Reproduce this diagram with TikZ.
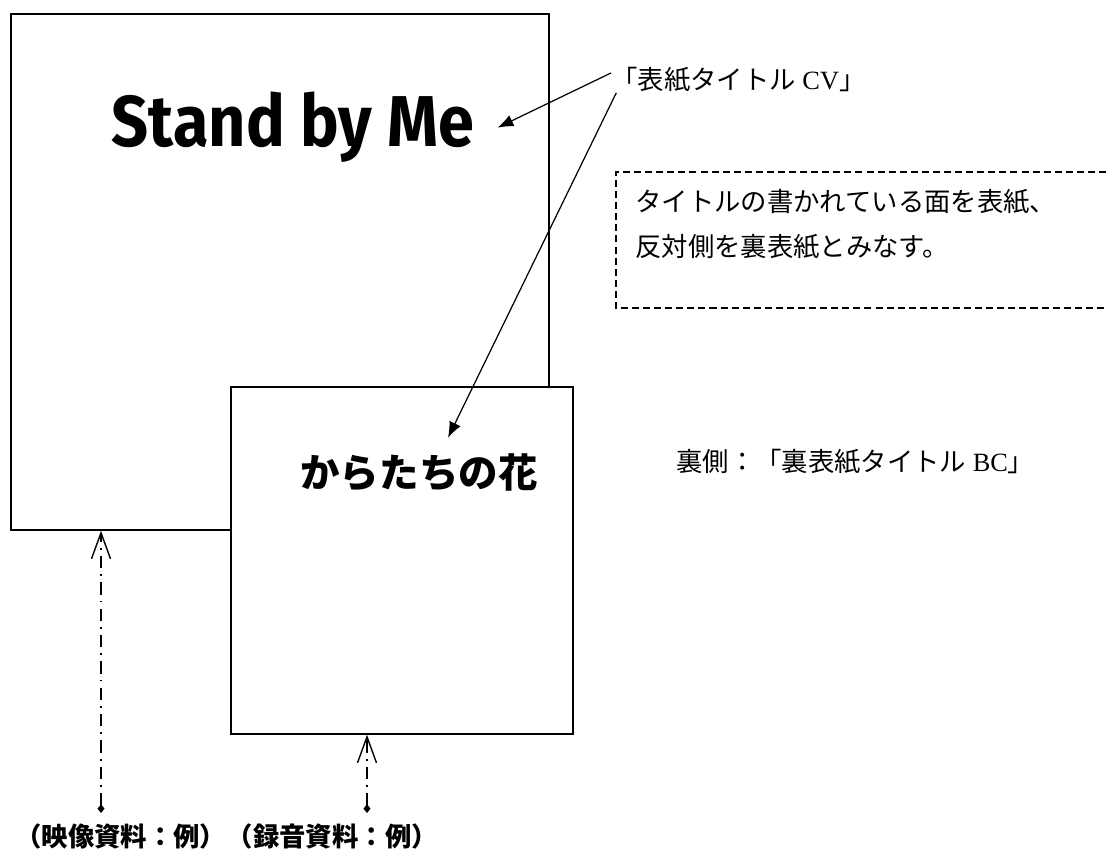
\documentclass[tikz,border=0pt]{standalone}
\usepackage{fontspec}
\setmainfont{Liberation Serif}
\newfontfamily\jp{Noto Sans CJK JP}
\newfontfamily\titlefont{Fira Sans}
\usetikzlibrary{arrows.meta,positioning}
\begin{document}
\begin{tikzpicture}[x=0.02cm,y=-0.02cm,
    box/.style={draw=black,line width=0.9pt,fill=white},
    pointer/.style={black,line width=0.7pt,-{Latex[length=9pt,width=7pt]}},
    media/.style={black,line width=0.8pt,dash pattern=on 7pt off 3.5pt on 1pt off 3.5pt,
      {Diamond[length=5pt,width=4pt]}-{Straight Barb[length=0.52cm,width=0.38cm]}},
    notebox/.style={black,line width=0.8pt,dash pattern=on 4pt off 2.3pt},
    jtext/.style={font=\jp\fontsize{15}{18}\selectfont},
    jbold/.style={font=\jp\bfseries\fontsize{15}{18}\selectfont}]
  \tikzstyle{every node}+=[inner sep=0pt]
  \useasboundingbox (0,0) rectangle (1106,851);
  % front and back covers
  \node[box,minimum width=10.76cm,minimum height=10.32cm] (cover) at (280,272) {};
  \node[box,minimum width=6.84cm,minimum height=6.94cm] (back) at (402,560.5) {};
  \node[anchor=base,inner xsep=0.46cm] (title) at (293,147)
    {\scalebox{0.9}[1]{\titlefont\bfseries\fontsize{41}{41}\selectfont Stand by Me}};
  \node (backtitle) at (419,473) {\jp\bfseries\fontsize{22.5}{22.5}\selectfont からたちの花};
  % labels
  \node[jtext,anchor=west] (cvlabel) at (611,80) {「表紙タイトル\rmfamily\ CV\jp 」};
  \node[jtext,anchor=west] (backlabel) at (676,462) {裏側：「裏表紙タイトル\rmfamily\ BC\jp 」};
  \node[jtext,anchor=west] (note1) at (635,202) {タイトルの書かれている面を表紙、};
  \node[jtext,anchor=west] (note2) at (635,247) {反対側を裏表紙とみなす。};
  \draw[notebox] (1106,172) -- (616,172) -- (616,308) -- (1106,308);
  \node[jbold,anchor=west] (video) at (15,836) {（映像資料：例）};
  \node[jbold,right=0pt of video] (audio) {（録音資料：例）};
  % arrows
  \draw[pointer] ([yshift=4pt]cvlabel.west) -- (title.east);
  \draw[pointer] ([xshift=3pt]cvlabel.south west) -- ([xshift=0.58cm,yshift=0.32cm]backtitle.north);
  \coordinate (videofoot) at (101,813);
  \coordinate (audiofoot) at (367,813);
  \draw[media] (videofoot) -- (videofoot |- cover.south);
  \draw[media] (audiofoot) -- (audiofoot |- back.south);
\end{tikzpicture}
\end{document}
